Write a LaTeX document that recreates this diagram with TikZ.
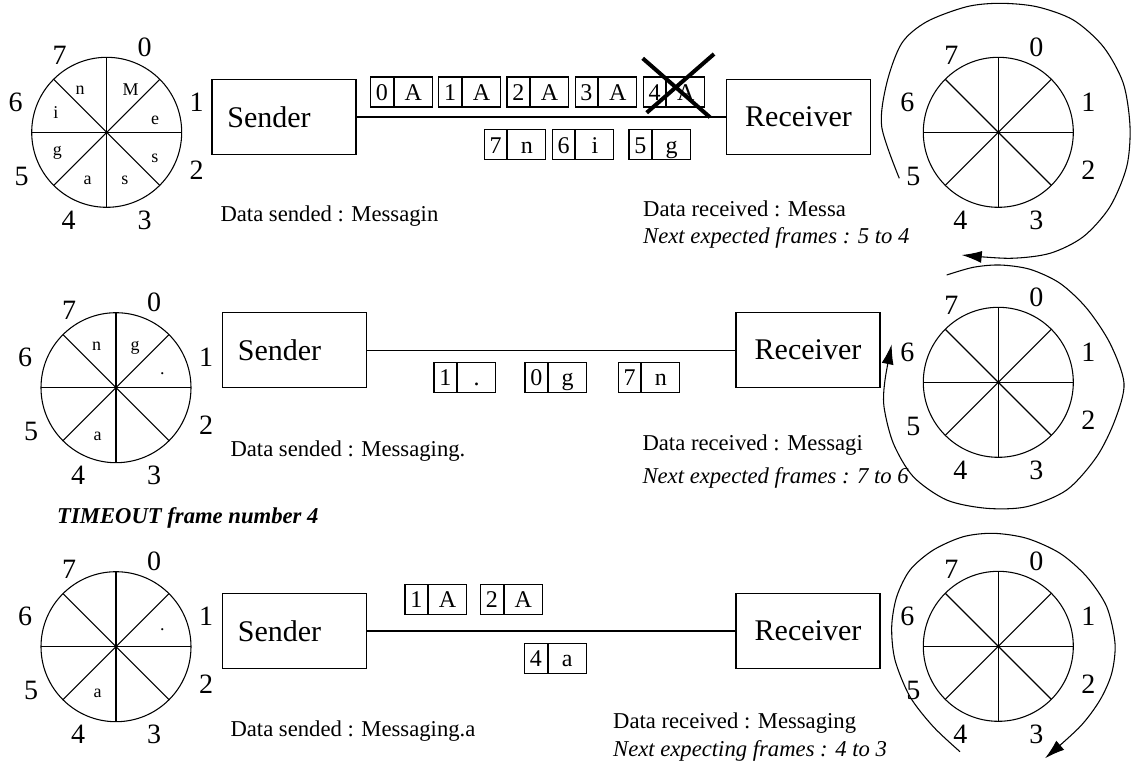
\documentclass[tikz,border=0pt]{standalone}
\usepackage{fontspec}
\setmainfont{Liberation Serif}
\usetikzlibrary{arrows.meta,positioning}

\begin{document}
\begin{tikzpicture}[x=0.75pt,y=-0.75pt,line width=0.8pt,
    station/.style={draw,minimum width=108pt,minimum height=56.5pt,inner sep=0pt,font=\fontsize{22.5}{26}\selectfont},
    wheelnum/.style={inner sep=0pt,font=\fontsize{21}{24}\selectfont},
    wheelchar/.style={inner sep=0pt,font=\fontsize{13.5}{16}\selectfont},
    framecell/.style={draw,minimum height=22.5pt,inner sep=0pt,text height=12.5pt,text depth=0pt,font=\fontsize{18}{20}\selectfont},
    ncell/.style={framecell,minimum width=16.9pt},
    ccell/.style={framecell,minimum width=28.5pt},
    info/.style={anchor=base west,inner sep=0pt,font=\fontsize{17}{20}\selectfont},
    infoit/.style={info,font=\fontsize{17}{20}\selectfont\itshape},
    wraparrow/.style={-{Latex[length=15pt,width=9pt]}}]
  \useasboundingbox (0,0) rectangle (1132,776);

  % sliding windows
  \foreach \cx/\cy [count=\i] in {106.7/132.3,116/387.7,116/646.7,998.3/132.3,998.3/382.3,998.3/646.3}{
    \draw (\cx,\cy) circle[radius=75];
    \foreach \a in {0,45,90,135}
      \draw (\cx,\cy) +(\a:75) -- +(\a+180:75);
    \foreach \k/\dx/\dy in {0/38/-85,1/90/-30,2/90/38,3/38/88,4/-38/88,5/-85/44,6/-91/-30,7/-47/-77}
      \node[wheelnum] (w\i-\k) at (\cx+\dx,\cy+\dy) {\k};
  }

  % buffered characters
  \foreach \x/\y/\c [count=\j] in {130.7/89.3/M,155/120.7/e,155/158.3/s,125/180/s,87.7/180/a,57.3/153.3/g,56/112.3/i,80/90/n,
      96.7/346.7/n,135/348.3/g,162.3/373.3/.,97.7/436/a,
      162.3/630/.,97.7/693.3/a}
    \node[wheelchar] (c\j) at (\x,\y) {\c};

  % sender and receiver
  \node[station,text width=85pt,align=left] (snd1) at (284,117) {Sender};
  \node[station] (rcv1) at (798.5,117) {Receiver};
  \node[station,text width=85pt,align=left] (snd2) at (294.5,350.2) {Sender};
  \node[station] (rcv2) at (808,350.2) {Receiver};
  \node[station,text width=85pt,align=left] (snd3) at (294.5,631) {Sender};
  \node[station] (rcv3) at (808,631) {Receiver};
  \draw (snd1) -- (rcv1);
  \draw (snd2) -- (rcv2);
  \draw (snd3) -- (rcv3);

  % frames on the line
  \foreach \x/\y/\n/\c [count=\j] in {370.7/92/0/A,438.9/92/1/A,507/92/2/A,575.2/92/3/A,643.3/92/4/A,
      484.3/144.7/7/n,552.3/144.7/6/i,629/144.7/5/g,
      434/377.2/1/.,525/377.2/0/g,618.3/377.2/7/n,
      405/599.5/1/A,480.7/599.5/2/A,524.7/658.3/4/a}{
    \node[ncell] (f\j) at (\x+11.25,\y) {\n};
    \node[ccell,right=0pt of f\j] (f\j c) {\c};
  }
  \draw[line width=3pt] (642.7,58.3) -- (710,117.3) (714,54) -- (646.7,112.7);

  % texts
  \node[info] (sent1) at (220,221) {Data sended : Messagin};
  \node[info] (recv1) at (642.7,216.5) {Data received : Messa};
  \node[infoit] (next1) at (642.7,243.5) {Next expected frames : 5 to 4};
  \node[info] (sent2) at (230,456) {Data sended : Messaging.};
  \node[info] (recv2) at (642,450) {Data received : Messagi};
  \node[infoit] (next2) at (642,483) {Next expected frames : 7 to 6};
  \node[info,font=\fontsize{17}{20}\selectfont\bfseries\itshape] (tmo) at (56.7,523) {TIMEOUT frame number 4};
  \node[info] (sent3) at (230,736) {Data sended : Messaging.a};
  \node[info] (recv3) at (612.6,728) {Data received : Messaging};
  \node[infoit] (next3) at (612.6,756) {Next expecting frames : 4 to 3};

  % window rotation
  \draw[wraparrow] plot[smooth] coordinates {(899.3,178.3) (881.7,126.7) (886.7,83.3) (901.7,43.3) (926.7,21.7) (966.7,6.7) (1000,3.3) (1036.7,6.7) (1073.3,20) (1103.3,46.7) (1123.3,83.3) (1130,126.7) (1126.7,166.7) (1110,206.7) (1083.3,236.7) (1050,253.3) (1010,258.3) (961.7,255)};
  \draw[wraparrow] plot[smooth] coordinates {(946.7,275) (973.3,267.3) (1000,265) (1030,269.3) (1060,283.3) (1086.7,308.3) (1110,343.3) (1124,383.3) (1115,420) (1096.7,456.7) (1066.7,490) (1026.7,506.7) (986.7,508.3) (946.7,500) (913.3,476.7) (893.3,443.3) (884,406.7) (885,380) (891.7,344.3)};
  \draw[wraparrow] plot[smooth] coordinates {(960,751.7) (933.3,726.7) (910,696.7) (895,660) (891.7,626.7) (896.7,596.7) (910,570) (933.3,550) (963.3,536.7) (993.3,533.3) (1026.7,538.3) (1060,553.3) (1086.7,576.7) (1106.7,606.7) (1115,643.3) (1111.7,673.3) (1100,700) (1080,726.7) (1045,758.3)};
\end{tikzpicture}
\end{document}
